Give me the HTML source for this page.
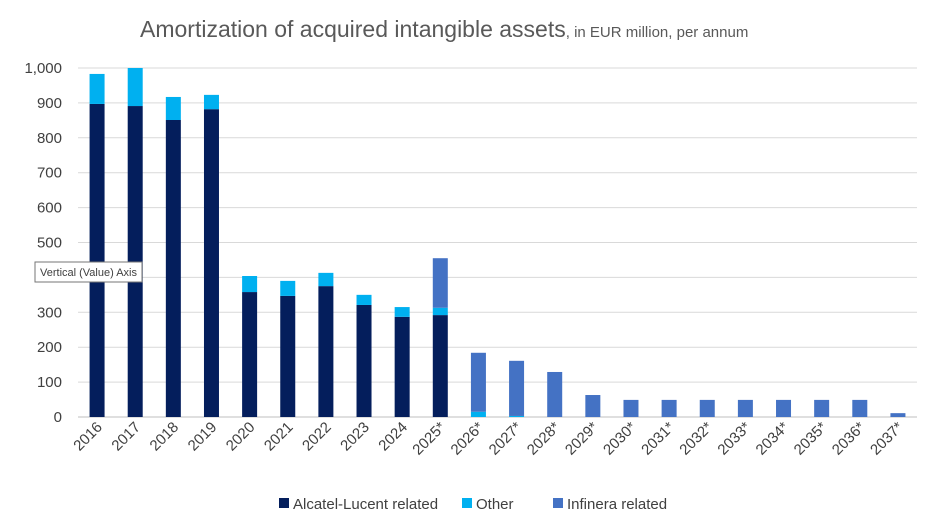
<!DOCTYPE html>
<html><head><meta charset="utf-8"><style>
body{margin:0;background:#fff;font-family:"Liberation Sans",sans-serif}
</style></head><body>
<svg width="952" height="522" xmlns="http://www.w3.org/2000/svg" font-family="Liberation Sans, sans-serif">
<rect width="952" height="522" fill="#fff"/>
<text x="140" y="37" fill="#595959" font-size="23">Amortization of acquired intangible assets<tspan font-size="15">, in EUR million, per annum</tspan></text>
<g id="grid"></g><g id="bars"></g><g id="xl"></g><g id="yl"></g>
<g font-size="15" fill="#404040">
<rect x="279" y="498" width="10" height="10" fill="#041e5c"/><text x="293" y="509">Alcatel-Lucent related</text>
<rect x="462" y="498" width="10" height="10" fill="#00b0f0"/><text x="476" y="509">Other</text>
<rect x="553" y="498" width="10" height="10" fill="#4472c4"/><text x="567" y="509">Infinera related</text>
</g>
<g>
<rect x="35" y="262" width="107" height="20" fill="#fff" stroke="#767676" stroke-width="1"/>
<text x="40" y="276" font-size="11" fill="#404040">Vertical (Value) Axis</text></g>
</svg>
<script>
const categories=["2016","2017","2018","2019","2020","2021","2022","2023","2024","2025*","2026*","2027*","2028*","2029*","2030*","2031*","2032*","2033*","2034*","2035*","2036*","2037*"];
const alcatel=[897,891,851,882,358,347,375,321,287,292,0,0,0,0,0,0,0,0,0,0,0,0];
const other=[86,109,66,41,46,43,38,29,28,21,15,3,0,0,0,0,0,0,0,0,0,0];
const infinera=[0,0,0,0,0,0,0,0,0,142,169,158,129,63,49,49,49,49,49,49,49,11];
const yTicks=[0,100,200,300,400,500,600,700,800,900,1000];
const yTickLabels=["0","100","200","300","400","500","600","700","800","900","1,000"];
const NS="http://www.w3.org/2000/svg";
const L=78,R=917,T=68,B=417;
const y=v=>B-(v/1000)*(B-T);
const step=(R-L)/categories.length;
const xc=i=>L+step*(i+0.5);
function mk(t,a,p){const e=document.createElementNS(NS,t);for(const k in a)e.setAttribute(k,a[k]);p.appendChild(e);return e;}
const g=document.getElementById('grid'),yl=document.getElementById('yl'),bg=document.getElementById('bars'),xl=document.getElementById('xl');
yTicks.forEach((v,i)=>{
 const ln=mk('line',{x1:L,x2:R,y1:y(v),y2:y(v),stroke:v===0?'#bfbfbf':'#d9d9d9','stroke-width':1},g);
 
 
 const t=mk('text',{x:62,y:y(v)+5,'text-anchor':'end','font-size':15,fill:'#404040'},yl);
 t.textContent=yTickLabels[i];
 
 
});
const bw=15;
categories.forEach((c,i)=>{
 let base=0;
 [[alcatel,'#041e5c','alcatel'],[other,'#00b0f0','other'],[infinera,'#4472c4','infinera']].forEach(([arr,col,n])=>{
  const v=arr[i];if(v>0){
   const r=mk('rect',{x:xc(i)-bw/2,y:y(base+v),width:bw,height:y(base)-y(base+v),fill:col},bg);
   
   
  }
  base+=v;
 });
 const t=mk('text',{x:xc(i)+6,y:428,'text-anchor':'end','font-size':15,fill:'#404040',transform:`rotate(-45 ${xc(i)+6} 428)`},xl);
 t.textContent=c;
 
 
});
</script>
</body></html>
